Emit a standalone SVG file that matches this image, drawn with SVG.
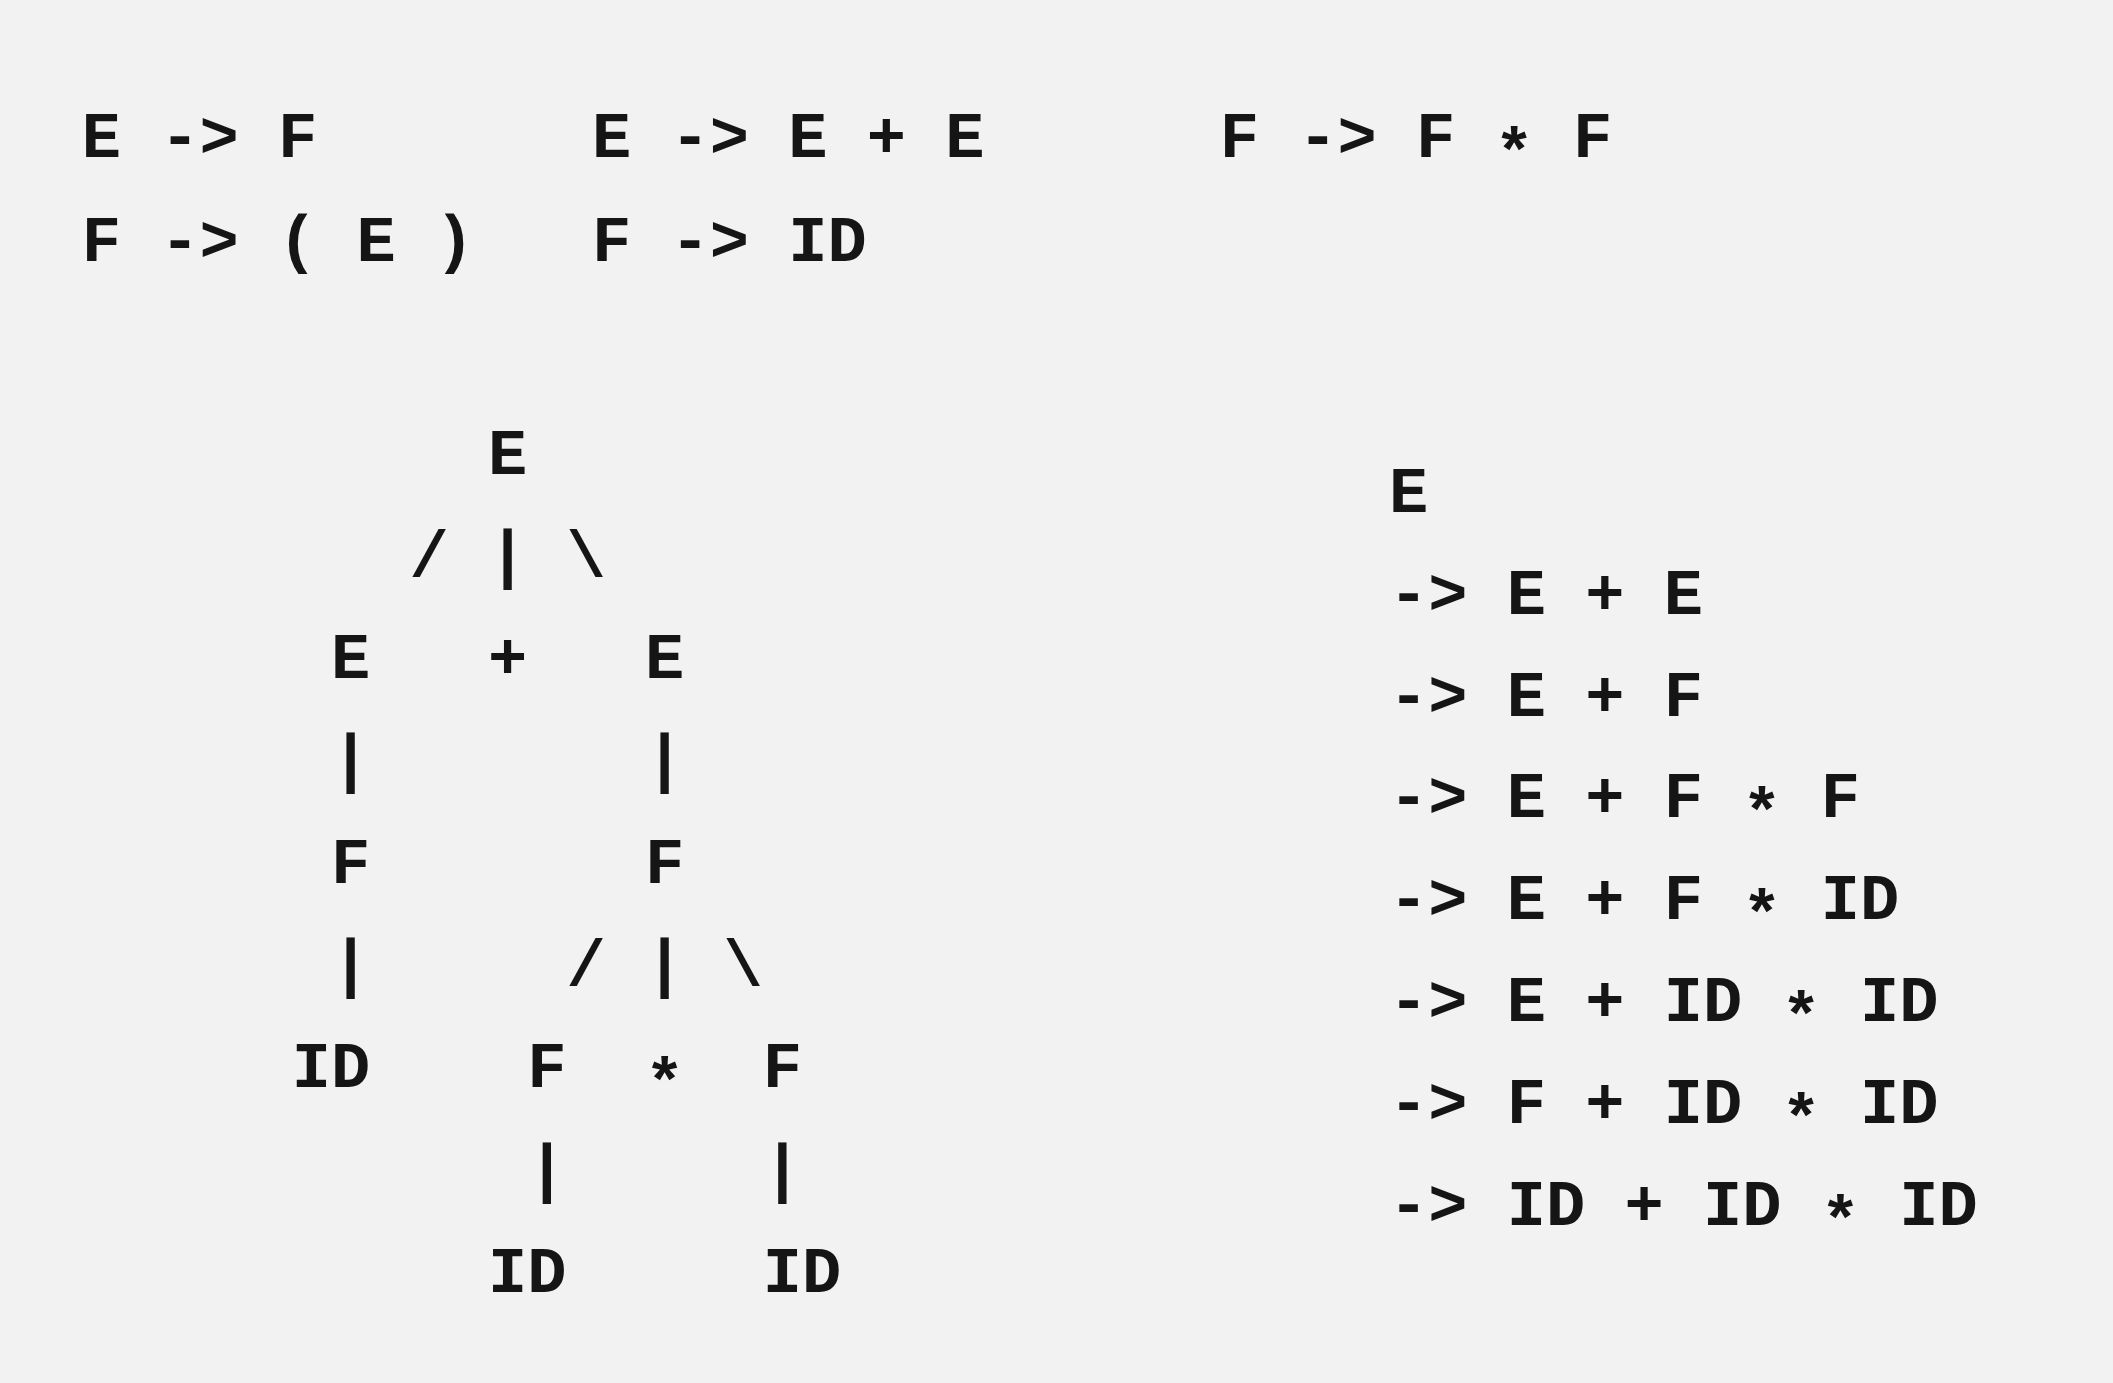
<svg xmlns="http://www.w3.org/2000/svg" width="2113" height="1383" viewBox="0 0 2113 1383">
<style>
  .t { font-family: "Liberation Mono", "DejaVu Sans Mono", monospace; font-size: 65.4px; font-weight: bold; fill: #151515; white-space: pre; }
  .c { text-anchor: middle; }
</style>
<rect x="0" y="0" width="2113" height="1383" fill="#f2f2f2"/>
<g id="rules">
  <text class="t" xml:space="preserve" x="81.85" y="157">E -&gt; F       E -&gt; E + E      F -&gt; F <tspan dy="16">*</tspan><tspan dy="-16"> F</tspan></text>
  <text class="t" xml:space="preserve" x="81.85" y="261">F -&gt; ( E )   F -&gt; ID</text>
</g>
<g id="tree-nodes">
  <g id="n-E-root"><text class="t c" x="507.7" y="473.5">E</text></g>
  <g id="n-E-left"><text class="t c" x="350.7" y="678.1">E</text></g>
  <g id="n-plus"><text class="t c" x="507.7" y="678.1">+</text></g>
  <g id="n-E-right"><text class="t c" x="664.7" y="678.1">E</text></g>
  <g id="n-F-left"><text class="t c" x="350.7" y="882.7">F</text></g>
  <g id="n-F-right"><text class="t c" x="664.7" y="882.7">F</text></g>
  <g id="n-ID-left"><text class="t c" x="331.1" y="1087.3">ID</text></g>
  <g id="n-F-mul-left"><text class="t c" x="546.9" y="1087.3">F</text></g>
  <g id="n-star"><text class="t c" x="664.7" y="1103.3">*</text></g>
  <g id="n-F-mul-right"><text class="t c" x="782.4" y="1087.3">F</text></g>
  <g id="n-ID-mid"><text class="t c" x="527.3" y="1291.9">ID</text></g>
  <g id="n-ID-right"><text class="t c" x="802.0" y="1291.9">ID</text></g>
</g>
<g id="connectors">
  <text class="t c" x="429.2" y="575.8">/</text>
  <text class="t c" x="507.7" y="575.8">|</text>
  <text class="t c" x="586.2" y="575.8">\</text>
  <text class="t c" x="350.7" y="780.4">|</text>
  <text class="t c" x="664.7" y="780.4">|</text>
  <text class="t c" x="350.7" y="985.0">|</text>
  <text class="t c" x="586.2" y="985.0">/</text>
  <text class="t c" x="664.7" y="985.0">|</text>
  <text class="t c" x="743.1" y="985.0">\</text>
  <text class="t c" x="546.9" y="1189.6">|</text>
  <text class="t c" x="782.4" y="1189.6">|</text>
</g>
<g id="derivation">
  <text class="t" xml:space="preserve" x="1389" y="511.7">E</text>
  <text class="t" xml:space="preserve" x="1389" y="613.6">-&gt; E + E</text>
  <text class="t" xml:space="preserve" x="1389" y="715.5">-&gt; E + F</text>
  <text class="t" xml:space="preserve" x="1389" y="817.4">-&gt; E + F <tspan dy="16">*</tspan><tspan dy="-16"> F</tspan></text>
  <text class="t" xml:space="preserve" x="1389" y="919.3">-&gt; E + F <tspan dy="16">*</tspan><tspan dy="-16"> ID</tspan></text>
  <text class="t" xml:space="preserve" x="1389" y="1021.2">-&gt; E + ID <tspan dy="16">*</tspan><tspan dy="-16"> ID</tspan></text>
  <text class="t" xml:space="preserve" x="1389" y="1123.1">-&gt; F + ID <tspan dy="16">*</tspan><tspan dy="-16"> ID</tspan></text>
  <text class="t" xml:space="preserve" x="1389" y="1225">-&gt; ID + ID <tspan dy="16">*</tspan><tspan dy="-16"> ID</tspan></text>
</g>
</svg>
